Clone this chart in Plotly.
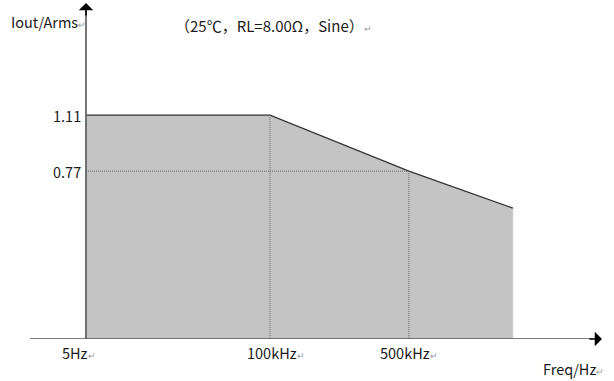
import plotly.graph_objects as go

# ---- data (schematic derating curve) ----
freq_labels = ["5Hz", "100kHz", "500kHz"]
freq_pos = [0.0, 1.0, 1.755]          # schematic (non-linear) positions of the labelled frequencies
curve_x = [0.0, 1.0, 1.755, 2.32]     # breakpoints of the curve (same schematic units)
curve_iout = [1.11, 1.11, 0.77, 0.545]
iout_ticks = [1.11, 0.77]
title_text = "（25℃，RL=8.00Ω，Sine）"
x_title = "Freq/Hz"
y_title = "Iout/Arms"

# ---- axis ranges (layout) ----
X_MIN, X_MAX = -0.3043, 2.826
Y_MIN, Y_MAX = -0.25, 1.792

RET = "<span style='font-size:9px;color:#9a9a9a'>↵</span>"
FONT = "Noto Sans CJK SC"
TXT = "#1a1a1a"
AXIS = "#555555"
FS = 14.5

fig = go.Figure()

# shaded area
poly_x = [curve_x[0]] + curve_x + [curve_x[-1], curve_x[0]]
poly_y = [Y_MIN] + curve_iout + [Y_MIN, Y_MIN]
fig.add_trace(go.Scatter(x=poly_x, y=poly_y, fill="toself", fillcolor="#c4c4c4",
                         line=dict(color="#d2d2d2", width=1), mode="lines",
                         hoverinfo="skip", showlegend=False))
# top profile
fig.add_trace(go.Scatter(x=curve_x, y=curve_iout, mode="lines",
                         line=dict(color="#333333", width=1.2),
                         hoverinfo="skip", showlegend=False))

# dotted guide lines
dot = dict(color="#6a6a6a", width=1, dash="1px,1px")
fig.add_trace(go.Scatter(x=[freq_pos[1], freq_pos[1]], y=[curve_iout[1], Y_MIN], mode="lines",
                         line=dot, showlegend=False, hoverinfo="skip"))
fig.add_trace(go.Scatter(x=[freq_pos[2], freq_pos[2]], y=[curve_iout[2], Y_MIN], mode="lines",
                         line=dot, showlegend=False, hoverinfo="skip"))
fig.add_trace(go.Scatter(x=[0, freq_pos[2]], y=[iout_ticks[1], iout_ticks[1]], mode="lines",
                         line=dot, showlegend=False, hoverinfo="skip"))

# axis lines
X_TIP = 2.804
fig.add_trace(go.Scatter(x=[0, 0], y=[Y_MIN, Y_MAX - 0.05], mode="lines",
                         line=dict(color=AXIS, width=1.6), showlegend=False, hoverinfo="skip"))
fig.add_trace(go.Scatter(x=[X_MIN, X_TIP - 0.05], y=[Y_MIN, Y_MIN], mode="lines",
                         line=dict(color=AXIS, width=1.6), showlegend=False, hoverinfo="skip"))

ann = []
# arrowheads (short black arrows at the axis tips)
ann.append(dict(x=0, y=Y_MAX, ax=0, ay=14, xref="x", yref="y",
                text="", showarrow=True, arrowhead=1, arrowsize=1.5, arrowwidth=1.6,
                arrowcolor="#000000", standoff=0))
ann.append(dict(x=X_TIP, y=Y_MIN, ax=-14, ay=0, xref="x", yref="y",
                text="", showarrow=True, arrowhead=1, arrowsize=1.5, arrowwidth=1.6,
                arrowcolor="#000000", standoff=0))

# y tick labels
for v in iout_ticks:
    ann.append(dict(x=0, y=v, xref="x", yref="y", text=f"{v:.2f}", showarrow=False,
                    xanchor="right", xshift=-3, font=dict(family=FONT, size=FS, color=TXT)))

# x tick labels
x_shift = [-7, 6, 0]
for lab, p, s in zip(freq_labels, freq_pos, x_shift):
    ann.append(dict(x=p, y=Y_MIN, xref="x", yref="y", text=lab + RET, showarrow=False,
                    xanchor="center", yanchor="top", xshift=s, yshift=-1,
                    font=dict(family=FONT, size=FS, color=TXT)))

# axis titles and condition text
ann.append(dict(x=X_MAX, y=Y_MIN, xref="x", yref="y", text=x_title + RET, showarrow=False,
                xanchor="right", yanchor="top", yshift=-17, font=dict(family=FONT, size=FS, color=TXT)))
ann.append(dict(x=0, y=Y_MAX, xref="x", yref="y", text=y_title + RET, showarrow=False,
                xanchor="right", yanchor="middle", xshift=2, yshift=-18,
                font=dict(family=FONT, size=FS, color=TXT)))
ann.append(dict(x=0.52, y=Y_MAX, xref="x", yref="y", text=title_text + RET, showarrow=False,
                xanchor="left", yanchor="middle", xshift=-9, yshift=-22,
                font=dict(family=FONT, size=15, color=TXT)))

fig.update_layout(
    width=614, height=381,
    margin=dict(l=30, r=8, t=3, b=42),
    paper_bgcolor="white", plot_bgcolor="white",
    xaxis=dict(range=[X_MIN, X_MAX], showgrid=False, zeroline=False, showticklabels=False,
               showline=False, ticks="", fixedrange=True),
    yaxis=dict(range=[Y_MIN, Y_MAX], showgrid=False, zeroline=False, showticklabels=False,
               showline=False, ticks="", fixedrange=True),
    annotations=ann,
    showlegend=False,
)

fig.write_html("out.html", post_script="document.body.style.margin='0px';",
               config={"displayModeBar": False})
